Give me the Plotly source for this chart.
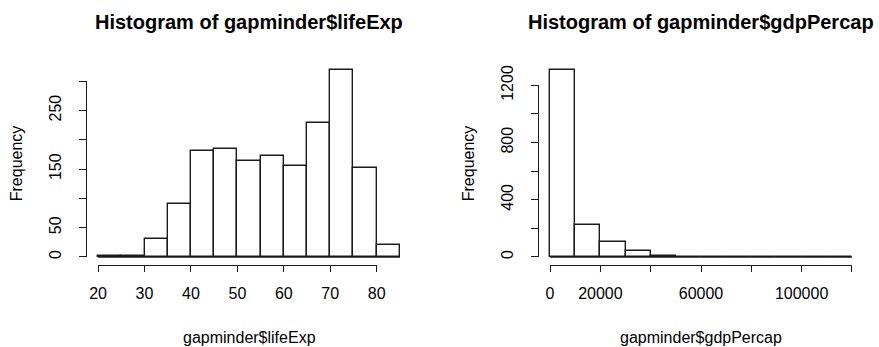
import plotly.graph_objects as go

# ---- data ----
life_edges = [20, 25, 30, 35, 40, 45, 50, 55, 60, 65, 70, 75, 80, 85]
life_counts = [1, 2, 30, 91, 181, 185, 163, 172, 156, 228, 320, 152, 21]
life_xticks = [20, 30, 40, 50, 60, 70, 80]
life_yticks = [0, 50, 100, 150, 200, 250, 300]
life_ylabels = ["0", "50", "", "150", "", "250", ""]

gdp_edges = [0, 10000, 20000, 30000, 40000, 50000, 60000, 70000, 80000,
             90000, 100000, 110000, 120000]
gdp_counts = [1311, 224, 105, 40, 8, 1, 0, 0, 1, 1, 2, 1]
gdp_xticks = [0, 20000, 40000, 60000, 80000, 100000, 120000]
gdp_xlabels = ["0", "20000", "", "60000", "", "100000", ""]
gdp_yticks = [0, 200, 400, 600, 800, 1000, 1200]
gdp_ylabels = ["0", "", "400", "", "800", "", "1200"]

W, H = 879, 347
FONT = "Liberation Sans, Arial, sans-serif"
LINE = "#1a1a1a"

# plot regions in pixels (left, right, top, bottom)
regions = [(86, 412, 62, 264.5), (538, 864, 62, 264.5)]

fig = go.Figure()


def px2x(p):
    return p / W


def px2y(p):
    return 1 - p / H


panels = [
    dict(edges=life_edges, counts=life_counts, xt=life_xticks,
         xl=[str(v) for v in life_xticks], yt=life_yticks, yl=life_ylabels,
         title="Histogram of gapminder$lifeExp", xlab="gapminder$lifeExp"),
    dict(edges=gdp_edges, counts=gdp_counts, xt=gdp_xticks, xl=gdp_xlabels,
         yt=gdp_yticks, yl=gdp_ylabels,
         title="Histogram of gapminder$gdpPercap", xlab="gapminder$gdpPercap"),
]

layout = {}
annotations = []
for i, p in enumerate(panels):
    L, R, T, B = regions[i]
    e = p["edges"]
    xr0, xr1 = e[0], e[-1]
    xs = (xr1 - xr0) * 0.04
    xrange = [xr0 - xs, xr1 + xs]
    ymax = max(p["counts"])
    yrange = [-0.04 * ymax, ymax * 1.04]

    mainx = 2 * i + 1
    visx = 2 * i + 2
    xdom = [px2x(L), px2x(R)]
    ydom = [px2y(B), px2y(T)]

    def xpaper(v):
        return xdom[0] + (v - xrange[0]) / (xrange[1] - xrange[0]) * (xdom[1] - xdom[0])

    def ypaper(v):
        return ydom[0] + (v - yrange[0]) / (yrange[1] - yrange[0]) * (ydom[1] - ydom[0])

    centers = [(e[k] + e[k + 1]) / 2 for k in range(len(e) - 1)]
    widths = [e[k + 1] - e[k] for k in range(len(e) - 1)]
    fig.add_trace(go.Bar(x=centers, y=p["counts"], width=widths,
                         marker=dict(color="white", line=dict(color=LINE, width=1.4)),
                         xaxis=f"x{mainx}", yaxis=f"y{mainx}", hoverinfo="skip",
                         showlegend=False))
    # flat baseline for empty bins (R draws zero-height rectangles)
    fig.add_trace(go.Scatter(x=[e[0], e[-1]], y=[0, 0], mode="lines",
                             line=dict(color=LINE, width=1.4),
                             xaxis=f"x{mainx}", yaxis=f"y{mainx}",
                             hoverinfo="skip", showlegend=False))
    # invisible trace to carry the visible R-style axes
    fig.add_trace(go.Scatter(x=[p["xt"][0], p["xt"][-1]], y=[p["yt"][0], p["yt"][-1]],
                             mode="markers", marker=dict(opacity=0),
                             xaxis=f"x{visx}", yaxis=f"y{visx}",
                             hoverinfo="skip", showlegend=False))

    hid = dict(visible=False, showgrid=False, zeroline=False, fixedrange=True,
               automargin=False)
    layout[f"xaxis{mainx}"] = dict(hid, domain=xdom, range=xrange, anchor=f"y{mainx}")
    layout[f"yaxis{mainx}"] = dict(hid, domain=ydom, range=yrange, anchor=f"x{mainx}")

    layout[f"xaxis{visx}"] = dict(
        domain=[xpaper(p["xt"][0]), xpaper(p["xt"][-1])],
        range=[p["xt"][0], p["xt"][-1]], anchor="free", position=ydom[0],
        showline=True, linecolor=LINE, linewidth=1.4, ticks="outside",
        ticklen=6, tickwidth=1.4, tickcolor=LINE, tickvals=p["xt"],
        ticktext=p["xl"], showgrid=False, zeroline=False, automargin=False,
        tickfont=dict(family=FONT, size=16, color="black"),
        ticklabelstandoff=8, fixedrange=True)
    layout[f"yaxis{visx}"] = dict(
        domain=[ypaper(p["yt"][0]), ypaper(p["yt"][-1])],
        range=[p["yt"][0], p["yt"][-1]], anchor="free", position=xdom[0],
        showline=True, linecolor=LINE, linewidth=1.4, ticks="outside",
        ticklen=7, tickwidth=1.4, tickcolor=LINE, tickvals=p["yt"],
        ticktext=p["yl"], tickangle=-90, showgrid=False, zeroline=False,
        automargin=False,
        tickfont=dict(family=FONT, size=16, color="black"),
        ticklabelstandoff=11, fixedrange=True)

    cx = (L + R) / 2
    annotations.append(dict(text=f"<b>{p['title']}</b>", x=px2x(cx), y=px2y(22),
                            xref="paper", yref="paper", showarrow=False,
                            xanchor="center", yanchor="middle",
                            font=dict(family=FONT, size=20, color="black")))
    annotations.append(dict(text=p["xlab"], x=px2x(cx), y=px2y(337),
                            xref="paper", yref="paper", showarrow=False,
                            xanchor="center", yanchor="middle",
                            font=dict(family=FONT, size=16, color="black")))
    annotations.append(dict(text="Frequency", x=px2x(L - 70), y=px2y((T + B) / 2),
                            xref="paper", yref="paper", showarrow=False,
                            textangle=-90, xanchor="center", yanchor="middle",
                            font=dict(family=FONT, size=16, color="black")))

fig.update_layout(**layout)
fig.update_layout(width=W, height=H, margin=dict(l=0, r=0, t=0, b=0, autoexpand=False),
                  paper_bgcolor="white", plot_bgcolor="rgba(0,0,0,0)",
                  annotations=annotations, bargap=0,
                  font=dict(family=FONT, color="black"))
fig.write_html("out.html", config={"displayModeBar": False},
               post_script="document.body.style.margin='0px';"
                           "document.body.style.overflow='hidden';")
